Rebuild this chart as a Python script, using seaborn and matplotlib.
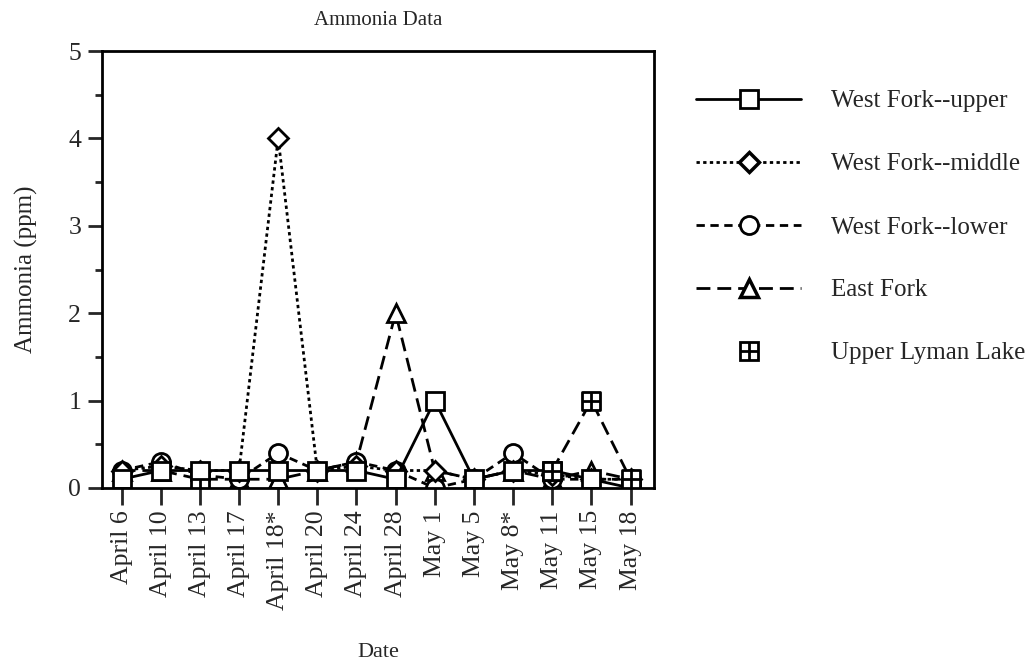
import numpy as np
import pandas as pd
import matplotlib
matplotlib.use("Agg")
import matplotlib.pyplot as plt
from matplotlib.lines import Line2D
import seaborn as sns

dates = ["April 6", "April 10", "April 13", "April 17", "April 18*", "April 20",
         "April 24", "April 28", "May 1", "May 5", "May 8*", "May 11", "May 15", "May 18"]

wf_upper = [0.1, 0.2, 0.2, 0.2, 0.2, 0.2, 0.2, 0.1, 1.0, 0.1, 0.2, 0.2, 0.1, 0.0]
wf_middle = [0.2, 0.25, 0.2, 0.2, 4.0, 0.2, 0.25, 0.2, 0.2, 0.1, 0.2, 0.15, 0.1, 0.1]
wf_lower = [0.2, 0.3, 0.15, 0.1, 0.4, 0.2, 0.3, 0.2, 0.0, 0.1, 0.4, 0.1, 0.1, 0.1]
east_fork = [0.2, 0.2, 0.1, 0.1, 0.1, 0.2, 0.3, 2.0, 0.2, 0.1, 0.2, 0.1, 0.2, 0.1]
upper_lyman = [np.nan, np.nan, 0.0, np.nan, np.nan, np.nan, np.nan, np.nan,
               np.nan, np.nan, np.nan, 0.2, 1.0, 0.1]

series_names = ["West Fork--upper", "West Fork--middle", "West Fork--lower",
                "East Fork", "Upper Lyman Lake"]

sns.set_theme(style="ticks")
plt.rcParams["font.family"] = ["Liberation Serif", "DejaVu Serif"]

fig = plt.figure(figsize=(10.34, 6.62), dpi=100)
ax = fig.add_axes([102 / 1034, 1 - 488 / 662, (654 - 102) / 1034, (488 - 51) / 662])

x = np.arange(len(dates))
lw = 2.0
ms = 13
common = dict(color="black", markerfacecolor="white", markeredgecolor="black",
              markeredgewidth=2.0, linewidth=lw, markersize=ms)

styles = {
    "East Fork": dict(marker="^", dashes=(5, 2.5)),
    "West Fork--lower": dict(marker="o", dashes=(3, 2)),
    "West Fork--middle": dict(marker="D", dashes=(1.2, 1.2)),
    "West Fork--upper": dict(marker="s", dashes=()),
}
data_map = {
    "West Fork--upper": wf_upper,
    "West Fork--middle": wf_middle,
    "West Fork--lower": wf_lower,
    "East Fork": east_fork,
}

# Upper Lyman Lake: draw contiguous runs only
ull = np.array(upper_lyman, dtype=float)
valid = ~np.isnan(ull)
runs = []
start = None
for i, v in enumerate(valid):
    if v and start is None:
        start = i
    if (not v or i == len(valid) - 1) and start is not None:
        end = i + 1 if v else i
        runs.append((start, end))
        start = None
for s, e in runs:
    if e - s > 1:
        sns.lineplot(x=x[s:e], y=ull[s:e], ax=ax, color="black", linewidth=lw,
                     dashes=(5, 2.5), estimator=None, sort=False, legend=False)
sns.scatterplot(x=x[valid], y=ull[valid], ax=ax, marker="s", s=170,
                facecolor="white", edgecolor="black", linewidth=2.0, legend=False, zorder=5)
sns.scatterplot(x=x[valid], y=ull[valid], ax=ax, marker="+", s=170,
                color="black", linewidth=2.0, legend=False, zorder=6)

for name in ["East Fork", "West Fork--lower", "West Fork--middle", "West Fork--upper"]:
    st = styles[name]
    kw = dict(common)
    kw["marker"] = st["marker"]
    kw["markersize"] = 10.5 if st["marker"] == "D" else ms
    sns.lineplot(x=x, y=data_map[name], ax=ax, estimator=None, sort=False,
                 legend=False, **kw)
    l = ax.lines[-1]
    if st["dashes"]:
        l.set_dashes(st["dashes"])

ax.set_xlim(-0.5, 13.6)
ax.set_ylim(0, 5)
ax.set_xticks(x)
ax.set_xticklabels(dates, rotation=90, fontsize=18.5)
ax.set_yticks([0, 1, 2, 3, 4, 5])
ax.set_yticks(np.arange(0.5, 5, 1.0), minor=True)
ax.tick_params(axis="y", which="major", length=10, width=2, labelsize=18.5, pad=5)
ax.tick_params(axis="y", which="minor", length=5, width=2)
ax.tick_params(axis="x", which="major", length=12, width=2, pad=4)
for sp in ax.spines.values():
    sp.set_linewidth(2.0)
    sp.set_color("black")
    sp.set_visible(True)

ax.set_title("Ammonia Data", fontsize=15, pad=19)
ax.set_ylabel("Ammonia (ppm)", fontsize=18, labelpad=22)
ax.set_xlabel("Date", fontsize=16, labelpad=24)

handles = [
    Line2D([], [], color="black", linewidth=lw, marker="s", markersize=ms,
           markerfacecolor="white", markeredgecolor="black", markeredgewidth=2),
    Line2D([], [], color="black", linewidth=lw, marker="D", markersize=10,
           markerfacecolor="white", markeredgecolor="black", markeredgewidth=2.5,
           dashes=(1.2, 1.2)),
    Line2D([], [], color="black", linewidth=lw, marker="o", markersize=ms,
           markerfacecolor="white", markeredgecolor="black", markeredgewidth=2,
           dashes=(3, 2)),
    Line2D([], [], color="black", linewidth=lw, marker="^", markersize=ms,
           markerfacecolor="white", markeredgecolor="black", markeredgewidth=2.5,
           dashes=(5, 2.5)),
    (Line2D([], [], linestyle="none", marker="s", markersize=ms,
            markerfacecolor="white", markeredgecolor="black", markeredgewidth=2),
     Line2D([], [], linestyle="none", marker="+", markersize=ms,
            color="black", markeredgewidth=2)),
]
fig.legend(handles, series_names, loc="upper left",
           bbox_to_anchor=(686 / 1034, 1 - 80 / 662), frameon=False,
           fontsize=18, handlelength=4.2, handletextpad=1.2, labelspacing=1.62,
           borderaxespad=0)

fig.savefig("out.png", dpi=100)
